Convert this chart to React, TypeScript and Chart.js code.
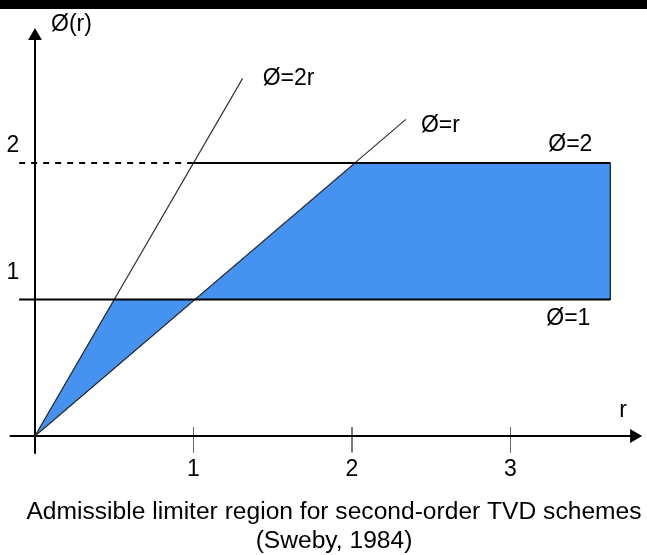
import React, { useEffect, useRef } from "react";
import { Chart, registerables } from "chart.js";

Chart.register(...registerables);

// ---------- data ----------
const xTickValues = [1, 2, 3];
const yTickValues = [1, 2];
const xTickLabels = ["1", "2", "3"];
const yTickLabels = ["1", "2"];

// lower admissible triangle (0<r<1): between φ=r and φ=min(2r,1)
const triangleR = [0, 0.5, 1.01, 0];
const trianglePhi = [0, 1, 1, 0];
// upper admissible region (r>1): between φ=1 and φ=min(r,2)
const regionR = [1.01, 2.02, 3.63, 3.63, 1.01];
const regionPhi = [1, 2, 2, 1, 1];

// reference lines
const phi2rR = [0, 1.31];
const phi2rPhi = [0, 2.62];
const phiRR = [0, 2.34];
const phiRPhi = [0, 2.32];
const phiOneR = [-0.1, 3.63];
const phiOnePhi = [1, 1];
const phiTwoDashR = [-0.1, 1];
const phiTwoSolidR = [1, 3.63];
const phiTwoPhi = [2, 2];

// axes
const xAxisR = [-0.16, 3.78];
const yAxisPhi = [-0.13, 2.93];

const curveLabels = ["Ø=2r", "Ø=r", "Ø=2", "Ø=1"];
const xAxisTitle = "r";
const yAxisTitle = "Ø(r)";
const captionLines = [
  "Admissible limiter region for second-order TVD schemes",
  "(Sweby, 1984)",
];

const pts = (xs: number[], ys: (number | null)[]) =>
  xs.map((x, i) => ({ x, y: ys[i] }));

const FONT = '"Liberation Sans", Arial, sans-serif';
const BLUE = "#4692F0";

const bgPlugin = {
  id: "bg",
  beforeDraw(chart: any) {
    const { ctx, width, height } = chart;
    ctx.save();
    ctx.fillStyle = "#fff";
    ctx.fillRect(0, 0, width, height);
    ctx.fillStyle = "#000";
    ctx.fillRect(0, 0, width, 9);
    ctx.restore();
  },
};

const textPlugin = {
  id: "texts",
  afterDatasetsDraw(chart: any) {
    const { ctx } = chart;
    const xs = chart.scales.x;
    const ys = chart.scales.y;
    const px = (v: number) => xs.getPixelForValue(v);
    const py = (v: number) => ys.getPixelForValue(v);
    ctx.save();
    ctx.fillStyle = "#000";
    ctx.textBaseline = "middle";
    ctx.font = `23px ${FONT}`;

    // x tick labels
    ctx.textAlign = "center";
    xTickValues.forEach((v, i) => {
      ctx.fillText(xTickLabels[i], px(v), py(0) + 34);
    });
    // y tick labels
    const lift: Record<number, number> = { 1: -27, 2: -17 };
    yTickValues.forEach((v, i) => {
      ctx.fillText(yTickLabels[i], px(0) - 22, py(v) + (lift[v] ?? -20));
    });

    // axis titles
    ctx.textAlign = "left";
    ctx.fillText(yAxisTitle, px(0) + 16, py(yAxisPhi[1]) - 11);
    ctx.textAlign = "center";
    ctx.fillText(xAxisTitle, px(xAxisR[1]) - 11, py(0) - 25);

    // curve labels
    ctx.textAlign = "left";
    ctx.fillText(curveLabels[0], px(phi2rR[1]) + 20, py(phi2rPhi[1]));
    ctx.fillText(curveLabels[1], px(phiRR[1]) + 15, py(phiRPhi[1]) + 6);
    ctx.textAlign = "right";
    ctx.fillText(curveLabels[2], px(regionR[2]) - 18, py(2) - 18);
    ctx.fillText(curveLabels[3], px(regionR[2]) - 20, py(1) + 19);

    // caption
    ctx.textAlign = "center";
    ctx.font = `24.6px ${FONT}`;
    ctx.fillText(captionLines[0], 334, 512);
    ctx.fillText(captionLines[1], 334, 541);
    ctx.restore();
  },
};

export default function App() {
  const ref = useRef<HTMLCanvasElement>(null);
  useEffect(() => {
    document.body.style.margin = "0";
    const canvas = ref.current!;
    const base = { pointRadius: 0, fill: false, tension: 0 };
    const tickData: { x: number; y: number | null }[] = [];
    xTickValues.forEach((v) => {
      tickData.push({ x: v, y: 0.065 }, { x: v, y: -0.12 }, { x: v, y: null });
    });
    const chart = new Chart(canvas, {
      type: "line",
      data: {
        datasets: [
          {
            ...base,
            data: pts(triangleR, trianglePhi),
            fill: "shape",
            backgroundColor: BLUE,
            borderColor: "#1b2f55",
            borderWidth: 1,
            order: 10,
          },
          {
            ...base,
            data: pts(regionR, regionPhi),
            fill: "shape",
            backgroundColor: BLUE,
            borderColor: "#1b2f55",
            borderWidth: 1,
            order: 10,
          },
          { ...base, data: pts(phiOneR, phiOnePhi), borderColor: "#000", borderWidth: 2 },
          {
            ...base,
            data: pts(phiTwoDashR, phiTwoPhi),
            borderColor: "#000",
            borderWidth: 2,
            borderDash: [6, 6],
          },
          { ...base, data: pts(phiTwoSolidR, phiTwoPhi), borderColor: "#000", borderWidth: 2 },
          { ...base, data: pts(phi2rR, phi2rPhi), borderColor: "#333", borderWidth: 1.2 },
          { ...base, data: pts(phiRR, phiRPhi), borderColor: "#333", borderWidth: 1.2 },
          { ...base, data: pts(xAxisR, [0, 0]), borderColor: "#000", borderWidth: 2 },
          { ...base, data: pts([0, 0], yAxisPhi), borderColor: "#000", borderWidth: 2 },
          { ...base, data: tickData, borderColor: "#666", borderWidth: 1, spanGaps: false },
          {
            data: [
              { x: xAxisR[1], y: 0 },
              { x: 0, y: yAxisPhi[1] },
            ],
            showLine: false,
            pointStyle: "triangle",
            pointRotation: [90, 0],
            pointRadius: 8,
            pointBackgroundColor: "#000",
            pointBorderColor: "#000",
            pointBorderWidth: 0,
          },
        ] as any,
      },
      options: {
        responsive: false,
        animation: false,
        events: [],
        layout: {
          autoPadding: false,
          padding: { left: 3.3, right: 1.775, top: 19.7, bottom: 91.7 },
        },
        scales: {
          x: { type: "linear", min: -0.2, max: 3.85, display: false },
          y: { type: "linear", min: -0.2, max: 3.05, display: false },
        },
        plugins: {
          legend: { display: false },
          tooltip: { enabled: false },
        },
      } as any,
      plugins: [bgPlugin, textPlugin],
    });
    return () => chart.destroy();
  }, []);
  return (
    <canvas ref={ref} width={647} height={555} style={{ display: "block" }} />
  );
}
